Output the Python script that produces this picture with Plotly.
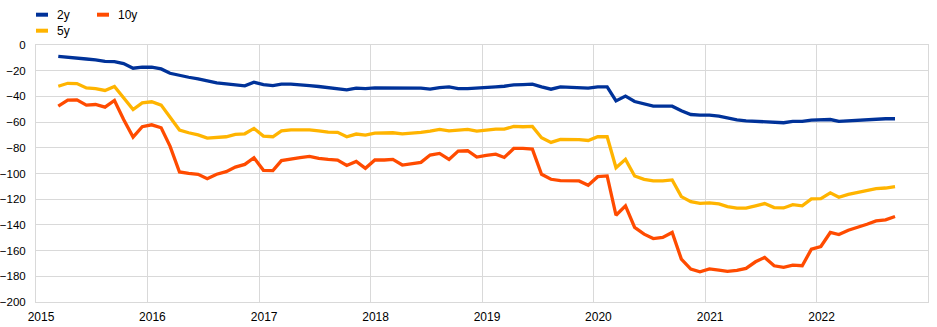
import pandas as pd
import plotly.graph_objects as go

# Monthly observations, March 2015 - September 2022 (basis points)
months = pd.date_range("2015-03-01", "2022-09-01", freq="MS") + pd.Timedelta(days=14)

y2 = [
    # 2015 (Mar-Dec)
    -8.8, -9.3, -10.1, -10.9, -11.6, -12.7, -12.9, -14.5, -18.1, -17.3,
    # 2016
    -17.3, -18.6, -22.0, -23.8, -25.1, -26.4, -28.2, -29.5, -30.3, -31.3, -31.8, -29.0,
    # 2017
    -30.8, -31.6, -30.5, -30.5, -30.8, -31.6, -32.3, -33.1, -33.6, -34.9, -33.6, -33.9,
    # 2018
    -33.4, -33.4, -33.4, -33.4, -33.4, -33.6, -34.4, -33.1, -32.6, -33.9, -33.9, -33.6,
    # 2019
    -33.4, -32.6, -32.1, -31.0, -30.8, -30.5, -32.6, -34.4, -32.6, -32.9, -33.1, -33.6,
    # 2020
    -32.6, -32.6, -43.5, -39.8, -44.0, -45.8, -47.6, -47.6, -47.6, -51.2, -54.1, -54.5,
    # 2021
    -54.6, -55.4, -56.9, -58.2, -59.0, -59.5, -59.5, -60.3, -60.5, -59.5, -59.5, -58.5,
    # 2022 (Jan-Sep)
    -58.5, -58.0, -59.5, -59.0, -58.5, -58.2, -57.4, -57.4, -57.4,
]

y5 = [
    -32.1, -29.8, -30.0, -33.4, -33.9, -35.4, -32.3, -41.1, -50.2, -45.0,
    -44.2, -46.8, -56.7, -66.2, -68.3, -69.9, -72.4, -72.2, -71.4, -69.6, -69.1, -64.9,
    -70.9, -71.4, -66.8, -66.0, -65.7, -66.0, -66.8, -67.8, -68.0, -71.4, -69.3, -70.1,
    -68.6, -68.3, -68.3, -69.1, -68.8, -68.0, -67.0, -65.7, -66.8, -66.0, -65.7, -67.0,
    -66.2, -65.5, -65.5, -63.4, -63.6, -63.4, -72.2, -75.8, -73.5, -73.5, -73.7, -74.3,
    -71.4, -71.4, -95.5, -89.0, -101.9, -104.5, -105.8, -105.8, -105.0, -118.0, -121.9, -123.2,
    -122.9, -123.7, -125.7, -127.0, -127.0, -125.2, -123.4, -126.5, -126.8, -124.2, -125.2, -119.8,
    -119.5, -115.1, -118.5, -116.2, -114.9, -113.6, -111.8, -111.3, -110.2,
]

y10 = [
    -47.6, -42.9, -42.7, -46.8, -46.3, -48.4, -43.2, -58.0, -71.7, -63.6,
    -62.1, -64.4, -78.7, -98.8, -99.9, -100.6, -104.0, -100.6, -98.6, -95.0, -92.9, -87.7,
    -97.5, -97.8, -90.0, -88.5, -87.7, -86.7, -88.2, -89.0, -89.5, -93.7, -90.6, -96.0,
    -89.5, -89.5, -89.0, -93.4, -92.6, -91.3, -85.6, -84.4, -89.0, -82.5, -82.3, -87.2,
    -85.9, -84.9, -87.5, -80.5, -80.5, -81.0, -100.6, -104.5, -105.6, -105.6, -105.8, -109.2,
    -102.5, -101.9, -132.5, -125.2, -142.0, -147.2, -150.6, -149.8, -145.9, -166.6, -174.4, -176.5,
    -174.2, -175.2, -176.2, -175.4, -173.9, -168.7, -165.3, -171.8, -173.1, -171.3, -171.8, -158.9,
    -156.8, -145.9, -147.5, -144.1, -142.0, -139.5, -136.9, -136.1, -133.5,
]

series_names = ["2y", "5y", "10y"]
series_values = [y2, y5, y10]
series_colors = ["#003299", "#FFB400", "#FF4B00"]

year_ticks = [f"{y}-01-01" for y in range(2015, 2023)]
year_labels = [str(y) for y in range(2015, 2023)]

FONT = "Arial, 'Liberation Sans', sans-serif"
GRID = "#d9d9d9"

W, H = 937, 327
ML, MR, MT, MB = 36, 9, 45, 25

fig = go.Figure()
for name, vals, col in zip(series_names, series_values, series_colors):
    fig.add_trace(go.Scatter(
        x=months, y=vals, name=name, mode="lines",
        line=dict(color=col, width=3.3), showlegend=False,
    ))

# Legend drawn as short line keys with text labels above the plot area
plot_w = W - ML - MR
plot_h = H - MT - MB

def px_x(px):
    return (px - ML) / plot_w

def px_y(py):
    return (H - MB - py) / plot_h

legend_slots = {"2y": (36, 14.7), "5y": (36, 30.7), "10y": (97, 14.7)}
for name, col in zip(series_names, series_colors):
    lx, ly = legend_slots[name]
    fig.add_shape(type="line", xref="paper", yref="paper",
                  x0=px_x(lx), x1=px_x(lx + 12), y0=px_y(ly), y1=px_y(ly),
                  line=dict(color=col, width=4))
    fig.add_annotation(xref="paper", yref="paper", x=px_x(lx + 19), y=px_y(ly),
                       text=name, showarrow=False, xanchor="left", yanchor="middle",
                       font=dict(family=FONT, size=12, color="#000000"))

fig.update_layout(
    width=W, height=H,
    margin=dict(l=ML, r=MR, t=MT, b=MB, pad=0, autoexpand=False),
    paper_bgcolor="white", plot_bgcolor="white",
    font=dict(family=FONT, size=12, color="#000000"),
    showlegend=False,
)
fig.update_xaxes(
    type="date", range=["2015-01-01", "2023-01-01"], automargin=False,
    tickvals=year_ticks, ticktext=year_labels,
    showgrid=True, gridcolor=GRID, gridwidth=1,
    showline=True, linecolor=GRID, linewidth=1, mirror=True,
    ticks="", ticklabelshift=5, ticklabelstandoff=4,
    tickfont=dict(family=FONT, size=12, color="#000000"),
)
fig.update_yaxes(
    range=[-200, 0], dtick=20, tick0=0, automargin=False,
    showgrid=True, gridcolor=GRID, gridwidth=1, zeroline=False,
    showline=True, linecolor=GRID, linewidth=1, mirror=True,
    ticks="", ticklabelstandoff=7,
    tickfont=dict(family=FONT, size=11.5, color="#000000"),
)

fig.write_html("out.html")
